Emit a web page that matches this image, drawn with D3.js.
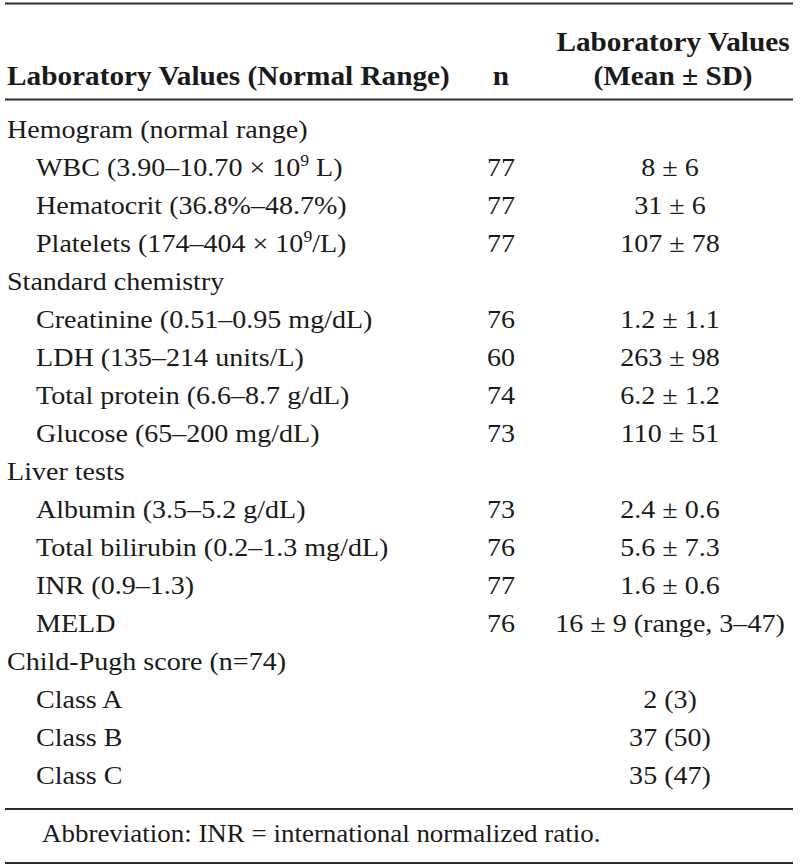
<!DOCTYPE html>
<html>
<head>
<meta charset="utf-8">
<script src="https://cdn.jsdelivr.net/npm/d3@7"></script>
<style>
  html, body { margin: 0; padding: 0; background: #fff; }
  svg { display: block; }
  text { font-family: "Liberation Serif", "Times New Roman", serif; fill: #1a1a1a; }
</style>
</head>
<body>
<svg id="chart" width="800" height="865"></svg>
<script>
// ---- data ----
const headerLeft = "Laboratory Values (Normal Range)";
const headerN = "n";
const headerValue = ["Laboratory Values", "(Mean ± SD)"];

// label parts: [text, superscript, tail]
const rowLabels = [
  ["Hemogram (normal range)"],
  ["WBC (3.90–10.70 × 10", "9", " L)"],
  ["Hematocrit (36.8%–48.7%)"],
  ["Platelets (174–404 × 10", "9", "/L)"],
  ["Standard chemistry"],
  ["Creatinine (0.51–0.95 mg/dL)"],
  ["LDH (135–214 units/L)"],
  ["Total protein (6.6–8.7 g/dL)"],
  ["Glucose (65–200 mg/dL)"],
  ["Liver tests"],
  ["Albumin (3.5–5.2 g/dL)"],
  ["Total bilirubin (0.2–1.3 mg/dL)"],
  ["INR (0.9–1.3)"],
  ["MELD"],
  ["Child-Pugh score (n=74)"],
  ["Class A"],
  ["Class B"],
  ["Class C"]
];
const rowIsGroup = [true, false, false, false, true, false, false, false, false,
                    true, false, false, false, false, true, false, false, false];
const rowN = ["", "77", "77", "77", "", "76", "60", "74", "73",
              "", "73", "76", "77", "76", "", "", "", ""];
const rowValues = ["", "8 ± 6", "31 ± 6", "107 ± 78", "", "1.2 ± 1.1", "263 ± 98",
                   "6.2 ± 1.2", "110 ± 51", "", "2.4 ± 0.6", "5.6 ± 7.3", "1.6 ± 0.6",
                   "16 ± 9 (range, 3–47)", "", "2 (3)", "37 (50)", "35 (47)"];
const footnote = "Abbreviation: INR = international normalized ratio.";

// ---- layout ----
const svg = d3.select("#chart");
const SX = 1.1;
const bodySize = 25.5;
const headSize = 26.6;
const footSize = 24.5;
const ruleColor = "#2a2a2a";

const xCol = d3.scaleOrdinal()
  .domain(["group", "item", "n", "value", "head", "foot"])
  .range([7, 36, 501, 670, 673, 42]);

const yRow = d3.scalePoint()
  .domain(d3.range(rowLabels.length))
  .range([138, 784]);

function placeText(x, y, anchor, size, weight) {
  return svg.append("text")
    .attr("transform", `translate(${x},${y}) scale(${SX},1)`)
    .attr("text-anchor", anchor)
    .style("font-size", size + "px")
    .style("font-weight", weight || "normal");
}

// rules
const rules = [
  {y: 3.5, w: 2.2},
  {y: 99.5, w: 1.8},
  {y: 809, w: 1.8},
  {y: 863, w: 1.8}
];
svg.selectAll("line.rule").data(rules).join("line")
  .attr("class", "rule")
  .attr("x1", 5).attr("x2", 793)
  .attr("y1", d => d.y).attr("y2", d => d.y)
  .attr("stroke", ruleColor).attr("stroke-width", d => d.w);

// header
placeText(xCol("group"), 85, "start", headSize, "bold").text(headerLeft);
placeText(xCol("n"), 85, "middle", headSize, "bold").text(headerN);
placeText(xCol("head"), 51, "middle", headSize, "bold").text(headerValue[0]);
placeText(xCol("head"), 85, "middle", headSize, "bold").text(headerValue[1]);

// rows
rowLabels.forEach((parts, i) => {
  const x = rowIsGroup[i] ? xCol("group") : xCol("item");
  const t = placeText(x, yRow(i), "start", bodySize);
  t.append("tspan").text(parts[0]);
  if (parts.length > 1) {
    t.append("tspan").attr("dy", -10).style("font-size", "16px").text(parts[1]);
    t.append("tspan").attr("dy", 10).text(parts[2]);
  }
  if (rowN[i]) placeText(xCol("n"), yRow(i), "middle", bodySize).text(rowN[i]);
  if (rowValues[i]) placeText(xCol("value"), yRow(i), "middle", bodySize).text(rowValues[i]);
});

// footnote
placeText(xCol("foot"), 842, "start", footSize).text(footnote);
</script>
</body>
</html>
